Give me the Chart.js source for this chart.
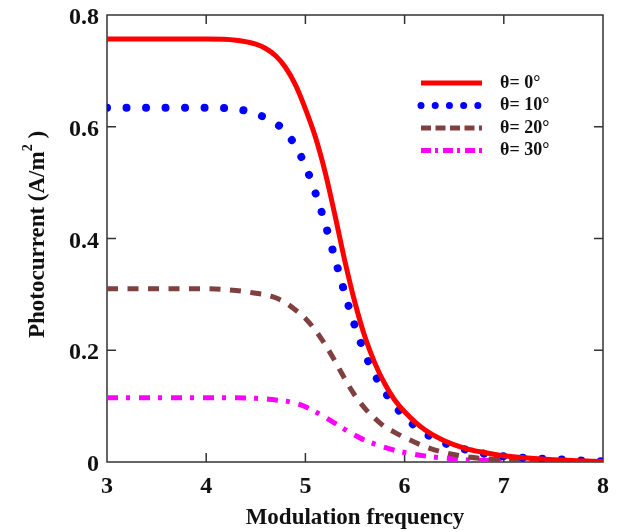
<!DOCTYPE html>
<html>
<head>
<meta charset="utf-8">
<script src="https://cdn.jsdelivr.net/npm/chart.js@4.4.1/dist/chart.umd.min.js"></script>
<style>
  html, body { margin: 0; padding: 0; background: #fff; }
  #wrap { width: 619px; height: 532px; }
</style>
</head>
<body>
<div id="wrap"><canvas id="chart" width="619" height="532"></canvas></div>
<script>
// modulation frequency (x) and photocurrent (A/m^2) for each angle
const freq = [3, 3.5, 4, 4.3, 4.5, 4.6, 4.7, 4.8, 4.9, 5.0, 5.1, 5.2, 5.3, 5.4, 5.5,
              5.6, 5.7, 5.8, 5.9, 6.0, 6.2, 6.4, 6.6, 6.8, 7.0, 7.5, 8.0];
const theta0  = [0.757, 0.757, 0.757, 0.755, 0.748, 0.740, 0.727, 0.706, 0.675, 0.632, 0.582, 0.518, 0.440, 0.358, 0.285,
                 0.224, 0.177, 0.140, 0.111, 0.090, 0.058, 0.038, 0.025, 0.017, 0.011, 0.004, 0.001];
const theta10 = [0.634, 0.634, 0.634, 0.632, 0.623, 0.616, 0.606, 0.592, 0.565, 0.530, 0.482, 0.426, 0.363, 0.300, 0.243,
                 0.194, 0.156, 0.126, 0.101, 0.081, 0.052, 0.034, 0.023, 0.015, 0.010, 0.005, 0.001];
const theta20 = [0.310, 0.310, 0.310, 0.307, 0.302, 0.299, 0.294, 0.285, 0.272, 0.257, 0.236, 0.210, 0.180, 0.148, 0.119,
                 0.096, 0.078, 0.063, 0.053, 0.044, 0.028, 0.017, 0.010, 0.006, 0.004, 0.002, 0.000];
const theta30 = [0.115, 0.115, 0.115, 0.115, 0.114, 0.113, 0.111, 0.109, 0.105, 0.099, 0.090, 0.080, 0.069, 0.058, 0.048,
                 0.039, 0.032, 0.026, 0.021, 0.017, 0.011, 0.007, 0.004, 0.003, 0.002, 0.001, 0.000];
const seriesLabels = ['θ= 0°', 'θ= 10°', 'θ= 20°', 'θ= 30°'];

const xTitle = 'Modulation frequency';
const yTitle = ['Photocurrent (A/m', '2', ' )'];

const SERIF = "'Liberation Serif', 'Times New Roman', serif";
const TICK = 9;

const toPts = arr => freq.map((f, i) => ({ x: f, y: arr[i] }));

const datasets = [
  { label: seriesLabels[0], data: toPts(theta0), borderColor: '#ff0000', borderWidth: 5,
    borderDash: [], borderCapStyle: 'butt', legendDash: [] },
  { label: seriesLabels[1], data: toPts(theta10), borderColor: '#0000ff', borderWidth: 8,
    borderDash: [0.01, 19.5], borderCapStyle: 'round', legendDash: [0.01, 14.2] },
  { label: seriesLabels[2], data: toPts(theta20), borderColor: '#804040', borderWidth: 5,
    borderDash: [11, 9.5], borderCapStyle: 'butt', legendDash: [10, 4.5] },
  { label: seriesLabels[3], data: toPts(theta30), borderColor: '#ff00ff', borderWidth: 5,
    borderDash: [11, 8, 4, 9], borderCapStyle: 'butt', legendDash: [10, 4, 3, 5] },
].map(d => ({ ...d, pointRadius: 0, cubicInterpolationMode: 'monotone', fill: false }));

// box round the plot with inward ticks on all four sides
const framePlugin = {
  id: 'frame',
  beforeDatasetsDraw(chart) {
    const { ctx, chartArea: a, scales: { x, y } } = chart;
    ctx.save();
    ctx.strokeStyle = '#333';
    ctx.lineWidth = 1.5;
    ctx.strokeRect(a.left, a.top, a.right - a.left, a.bottom - a.top);
    ctx.beginPath();
    x.ticks.forEach(t => {
      const px = x.getPixelForValue(t.value);
      if (px <= a.left + 1 || px >= a.right - 1) return;
      ctx.moveTo(px, a.bottom); ctx.lineTo(px, a.bottom - TICK);
      ctx.moveTo(px, a.top); ctx.lineTo(px, a.top + TICK);
    });
    y.ticks.forEach(t => {
      const py = y.getPixelForValue(t.value);
      if (py <= a.top + 1 || py >= a.bottom - 1) return;
      ctx.moveTo(a.left, py); ctx.lineTo(a.left + TICK, py);
      ctx.moveTo(a.right, py); ctx.lineTo(a.right - TICK, py);
    });
    ctx.stroke();
    ctx.restore();
  }
};

// y title with a raised "2"
const yTitlePlugin = {
  id: 'ytitle',
  afterDraw(chart) {
    const { ctx, chartArea: a } = chart;
    const big = 'bold 23px ' + SERIF, small = 'bold 14px ' + SERIF;
    ctx.save();
    ctx.font = big;
    const w0 = ctx.measureText(yTitle[0]).width;
    const w2 = ctx.measureText(yTitle[2]).width;
    ctx.font = small;
    const w1 = ctx.measureText(yTitle[1]).width;
    const total = w0 + w1 + w2;
    ctx.translate(38, (a.top + a.bottom) / 2 - 4);
    ctx.rotate(-Math.PI / 2);
    ctx.fillStyle = '#111';
    ctx.textBaseline = 'middle';
    ctx.textAlign = 'left';
    let cx = -total / 2;
    ctx.font = big;  ctx.fillText(yTitle[0], cx, 0); cx += w0;
    ctx.font = small; ctx.fillText(yTitle[1], cx, -10); cx += w1;
    ctx.font = big;  ctx.fillText(yTitle[2], cx, 0);
    ctx.restore();
  }
};

// legend inside the plot, top right
const legendPlugin = {
  id: 'innerLegend',
  afterDraw(chart) {
    const { ctx, chartArea: a } = chart;
    const x0 = a.right - 182, x1 = a.right - 121, tx = a.right - 103;
    let yy = a.top + 68;
    ctx.save();
    chart.data.datasets.forEach(ds => {
      ctx.beginPath();
      ctx.strokeStyle = ds.borderColor;
      ctx.lineWidth = ds.borderWidth === 8 ? 7 : ds.borderWidth;
      ctx.lineCap = ds.borderCapStyle;
      ctx.setLineDash(ds.legendDash);
      ctx.moveTo(x0, yy); ctx.lineTo(x1, yy);
      ctx.stroke();
      ctx.setLineDash([]);
      ctx.fillStyle = '#111';
      ctx.font = 'bold 18px ' + SERIF;
      ctx.textBaseline = 'middle';
      ctx.textAlign = 'left';
      ctx.fillText(ds.label, tx, yy);
      yy += 22.5;
    });
    ctx.restore();
  }
};

new Chart(document.getElementById('chart'), {
  type: 'line',
  data: { datasets },
  plugins: [framePlugin, yTitlePlugin, legendPlugin],
  options: {
    responsive: false,
    animation: false,
    layout: { padding: { top: 15, right: 16, left: 0, bottom: 0 } },
    plugins: { legend: { display: false }, tooltip: { enabled: false } },
    scales: {
      x: {
        type: 'linear', min: 3, max: 8,
        afterFit: s => { s.height = 70; s.paddingLeft = 0; s.paddingRight = 0; },
        grid: { display: false, drawTicks: false },
        border: { display: false },
        ticks: { stepSize: 1, padding: 10, color: '#111', font: { family: SERIF, size: 24, weight: 'bold' } },
        title: { display: true, text: xTitle, color: '#111', padding: { top: 0, bottom: 0 },
                 font: { family: SERIF, size: 23, weight: 'bold' } },
      },
      y: {
        min: 0, max: 0.8,
        afterFit: s => { s.width = 107; s.paddingTop = 0; s.paddingBottom = 0; },
        grid: { display: false, drawTicks: false },
        border: { display: false },
        ticks: { stepSize: 0.2, padding: 8, labelOffset: 3, color: '#111', font: { family: SERIF, size: 24, weight: 'bold' } },
      },
    },
  },
});
</script>
</body>
</html>
